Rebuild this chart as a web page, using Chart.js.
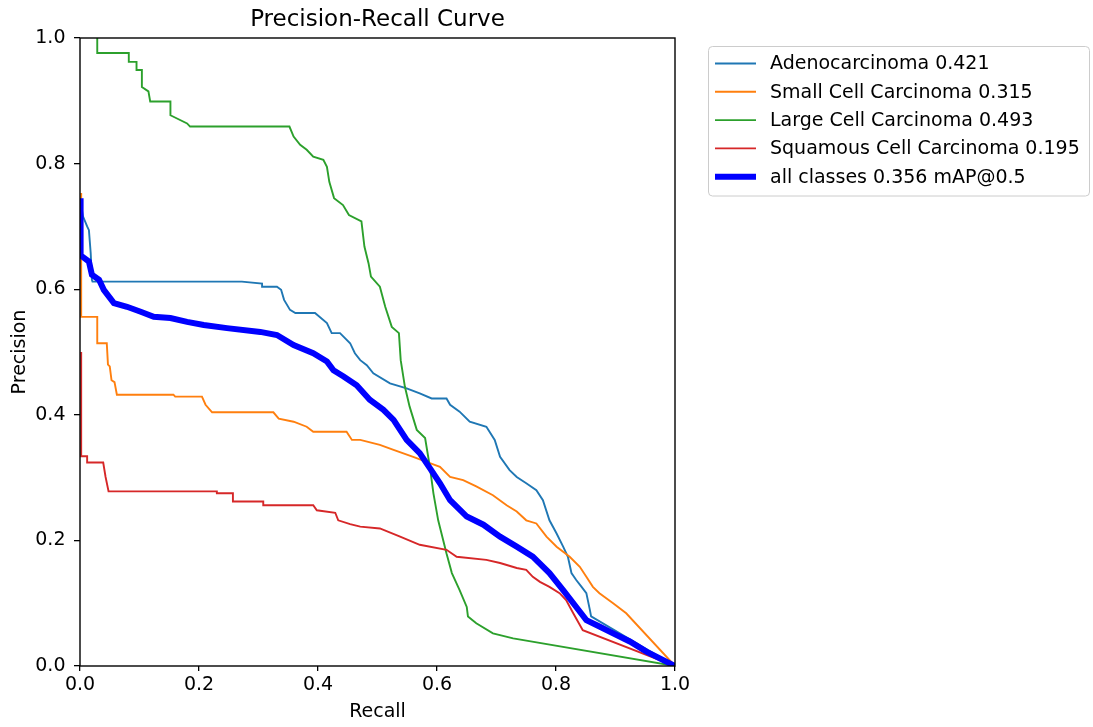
<!DOCTYPE html>
<html>
<head>
<meta charset="utf-8">
<script src="https://cdn.jsdelivr.net/npm/chart.js@4/dist/chart.umd.min.js"></script>
<style>
	html, body { margin: 0; padding: 0; background: #fff; }
	#prChart { display: block; }
</style>
</head>
<body>
<canvas id="prChart" width="1093" height="727"></canvas>
<script>
// recall / precision values, one pair of arrays per class
const adenoRecall = [0, 0.005, 0.012, 0.015, 0.018, 0.02, 0.021, 0.272, 0.306, 0.306, 0.331, 0.338, 0.343, 0.353, 0.362, 0.395, 0.415, 0.423, 0.437, 0.454, 0.462, 0.471, 0.482, 0.493, 0.521, 0.549, 0.571, 0.591, 0.616, 0.622, 0.638, 0.655, 0.683, 0.697, 0.706, 0.722, 0.734, 0.75, 0.767, 0.778, 0.789, 0.801, 0.812, 0.82, 0.826, 0.834, 0.843, 0.851, 0.857, 0.859, 1.0];
const adenoPrecision = [0.745, 0.716, 0.70, 0.694, 0.657, 0.615, 0.612, 0.612, 0.609, 0.604, 0.604, 0.599, 0.583, 0.567, 0.562, 0.562, 0.546, 0.530, 0.530, 0.514, 0.498, 0.487, 0.479, 0.466, 0.45, 0.442, 0.434, 0.426, 0.426, 0.416, 0.405, 0.389, 0.381, 0.36, 0.333, 0.312, 0.301, 0.291, 0.28, 0.264, 0.232, 0.211, 0.19, 0.174, 0.148, 0.137, 0.126, 0.116, 0.089, 0.079, 0.0];

const smallRecall = [0.002, 0.002, 0.029, 0.029, 0.045, 0.047, 0.05, 0.053, 0.058, 0.062, 0.157, 0.16, 0.205, 0.211, 0.222, 0.325, 0.334, 0.359, 0.381, 0.392, 0.448, 0.457, 0.471, 0.504, 0.527, 0.56, 0.588, 0.605, 0.622, 0.644, 0.666, 0.694, 0.717, 0.734, 0.75, 0.767, 0.784, 0.801, 0.823, 0.84, 0.851, 0.862, 0.873, 0.896, 0.918, 1.0];
const smallPrecision = [0.753, 0.556, 0.556, 0.514, 0.514, 0.48, 0.477, 0.455, 0.452, 0.432, 0.432, 0.429, 0.429, 0.416, 0.404, 0.404, 0.394, 0.389, 0.381, 0.373, 0.373, 0.36, 0.36, 0.352, 0.344, 0.333, 0.323, 0.317, 0.301, 0.296, 0.286, 0.272, 0.256, 0.246, 0.232, 0.227, 0.206, 0.19, 0.174, 0.158, 0.142, 0.126, 0.116, 0.1, 0.084, 0.0];

const largeRecall = [0.029, 0.029, 0.082, 0.082, 0.095, 0.095, 0.104, 0.104, 0.115, 0.118, 0.152, 0.152, 0.18, 0.185, 0.352, 0.359, 0.37, 0.381, 0.392, 0.409, 0.415, 0.419, 0.427, 0.442, 0.452, 0.473, 0.478, 0.485, 0.489, 0.504, 0.513, 0.524, 0.536, 0.539, 0.546, 0.554, 0.566, 0.58, 0.588, 0.594, 0.602, 0.616, 0.625, 0.638, 0.65, 0.652, 0.666, 0.694, 0.728, 1.0];
const largePrecision = [1.0, 0.976, 0.976, 0.962, 0.962, 0.949, 0.949, 0.922, 0.915, 0.899, 0.899, 0.877, 0.864, 0.859, 0.859, 0.843, 0.83, 0.822, 0.811, 0.806, 0.795, 0.771, 0.745, 0.734, 0.718, 0.708, 0.668, 0.641, 0.62, 0.604, 0.572, 0.540, 0.53, 0.487, 0.445, 0.413, 0.376, 0.363, 0.317, 0.275, 0.232, 0.179, 0.148, 0.121, 0.094, 0.079, 0.068, 0.052, 0.044, 0.0];

const squamRecall = [0.002, 0.002, 0.012, 0.012, 0.039, 0.043, 0.048, 0.23, 0.23, 0.257, 0.257, 0.308, 0.308, 0.392, 0.398, 0.429, 0.434, 0.454, 0.471, 0.504, 0.538, 0.571, 0.616, 0.633, 0.683, 0.706, 0.734, 0.75, 0.761, 0.773, 0.789, 0.806, 0.817, 0.829, 0.845, 1.0];
const squamPrecision = [0.5, 0.334, 0.334, 0.324, 0.324, 0.301, 0.278, 0.278, 0.275, 0.275, 0.262, 0.262, 0.256, 0.256, 0.248, 0.244, 0.232, 0.226, 0.222, 0.219, 0.206, 0.193, 0.185, 0.174, 0.169, 0.164, 0.156, 0.153, 0.142, 0.134, 0.126, 0.116, 0.105, 0.084, 0.057, 0.0];

const allRecall = [0.001, 0.001, 0.015, 0.02, 0.032, 0.04, 0.057, 0.079, 0.102, 0.124, 0.152, 0.18, 0.208, 0.247, 0.303, 0.331, 0.359, 0.392, 0.415, 0.426, 0.443, 0.465, 0.487, 0.51, 0.527, 0.549, 0.571, 0.588, 0.605, 0.622, 0.65, 0.678, 0.706, 0.734, 0.761, 0.789, 0.812, 0.834, 0.851, 0.873, 0.896, 0.924, 0.952, 1.0];
const allPrecision = [0.745, 0.654, 0.644, 0.623, 0.615, 0.599, 0.578, 0.572, 0.564, 0.556, 0.554, 0.548, 0.543, 0.538, 0.532, 0.527, 0.511, 0.498, 0.485, 0.471, 0.461, 0.447, 0.424, 0.408, 0.392, 0.36, 0.339, 0.315, 0.291, 0.264, 0.238, 0.225, 0.206, 0.19, 0.174, 0.148, 0.121, 0.094, 0.073, 0.063, 0.052, 0.039, 0.023, 0.0];

const seriesLabels = [
	"Adenocarcinoma 0.421",
	"Small Cell Carcinoma 0.315",
	"Large Cell Carcinoma 0.493",
	"Squamous Cell Carcinoma 0.195",
	"all classes 0.356 mAP@0.5",
];
const axisTicks = [0, 0.2, 0.4, 0.6, 0.8, 1.0];

const colors = ["#1f77b4", "#ff7f0e", "#2ca02c", "#d62728", "#0000ff"];
const FONT = "'DejaVu Sans', 'Noto Sans', sans-serif";

// zip recall + precision into points
function toPoints(rec, prec) {
	return rec.map((r, i) => ({ x: r, y: prec[i] }));
}

const pairs = [
	[adenoRecall, adenoPrecision],
	[smallRecall, smallPrecision],
	[largeRecall, largePrecision],
	[squamRecall, squamPrecision],
	[allRecall, allPrecision],
];

const datasets = pairs.map((p, i) => ({
	label: seriesLabels[i],
	data: toPoints(p[0], p[1]),
	borderColor: colors[i],
	backgroundColor: colors[i],
	borderWidth: i === 4 ? 6 : 1.9,
	pointRadius: 0,
	tension: 0,
	fill: false,
	// later series on top, like matplotlib
	order: 4 - i,
}));

// frame around the plot (all four spines)
const framePlugin = {
	id: "frame",
	afterDatasetsDraw(chart) {
		const { ctx, chartArea: a } = chart;
		ctx.save();
		ctx.strokeStyle = "#000";
		ctx.lineWidth = 1.4;
		ctx.strokeRect(a.left, a.top, a.right - a.left, a.bottom - a.top);
		ctx.restore();
	},
};

// boxed legend at the right, outside the plot
const boxLegendPlugin = {
	id: "boxLegend",
	afterDraw(chart) {
		const ctx = chart.ctx;
		const x0 = 708.5, y0 = 46.5, w = 381, h = 149.5;
		ctx.save();
		ctx.beginPath();
		ctx.roundRect(x0, y0, w, h, 4);
		ctx.fillStyle = "rgba(255,255,255,0.8)";
		ctx.fill();
		ctx.strokeStyle = "#cccccc";
		ctx.lineWidth = 1;
		ctx.stroke();

		ctx.font = "19px " + FONT;
		ctx.textBaseline = "middle";
		ctx.textAlign = "left";
		chart.data.datasets.forEach((ds, i) => {
			const y = 63.5 + i * 28.3;
			ctx.beginPath();
			ctx.moveTo(715, y);
			ctx.lineTo(756, y);
			ctx.strokeStyle = ds.borderColor;
			ctx.lineWidth = ds.borderWidth;
			ctx.stroke();
			ctx.fillStyle = "#000";
			ctx.fillText(ds.label, 770, y + 1);
		});
		ctx.restore();
	},
};

const tickFmt = (v) => Number(v).toFixed(1);

const config = {
	type: "line",
	data: { datasets: datasets },
	options: {
		responsive: false,
		animation: false,
		parsing: false,
		layout: {
			padding: { left: 0, right: 418, top: 0, bottom: 0 },
		},
		plugins: {
			legend: { display: false },
			tooltip: { enabled: false },
			title: {
				display: true,
				text: "Precision-Recall Curve",
				fullSize: false,
				color: "#000",
				font: { family: FONT, size: 23, weight: "normal" },
				padding: { top: 6, bottom: 4.4 },
			},
		},
		scales: {
			x: {
				type: "linear",
				min: 0,
				max: 1,
				afterBuildTicks: (s) => { s.ticks = axisTicks.map((v) => ({ value: v })); },
				afterFit: (s) => { s.height = 61; },
				border: { display: false },
				grid: {
					drawOnChartArea: false,
					drawTicks: true,
					tickLength: 5,
					color: "#000",
					lineWidth: 1.3,
				},
				ticks: {
					color: "#000",
					padding: 3,
					maxRotation: 0,
					font: { family: FONT, size: 19 },
					callback: tickFmt,
				},
				title: {
					display: true,
					text: "Recall",
					color: "#000",
					font: { family: FONT, size: 19 },
					padding: { top: 0, bottom: 4 },
				},
			},
			y: {
				type: "linear",
				min: 0,
				max: 1,
				afterBuildTicks: (s) => { s.ticks = axisTicks.map((v) => ({ value: v })); },
				afterFit: (s) => { s.width = 80; },
				border: { display: false },
				grid: {
					drawOnChartArea: false,
					drawTicks: true,
					tickLength: 6,
					color: "#000",
					lineWidth: 1.3,
				},
				ticks: {
					color: "#000",
					padding: 8.5,
					font: { family: FONT, size: 19 },
					callback: tickFmt,
				},
				title: {
					display: true,
					text: "Precision",
					color: "#000",
					font: { family: FONT, size: 19 },
					padding: { top: 9, bottom: 0 },
				},
			},
		},
	},
	plugins: [framePlugin, boxLegendPlugin],
};

const prChart = new Chart(document.getElementById("prChart"), config);
</script>
</body>
</html>
